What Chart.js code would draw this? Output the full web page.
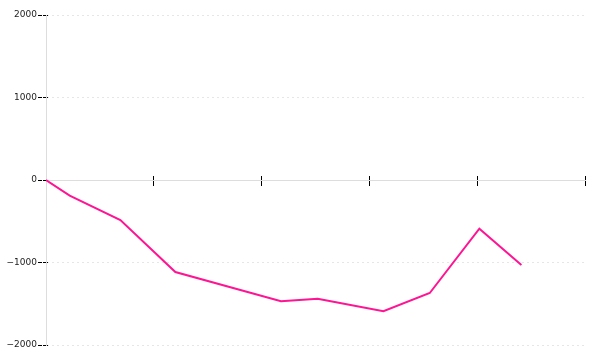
<!DOCTYPE html>
<html>
<head>
<meta charset="utf-8">
<script src="https://cdn.jsdelivr.net/npm/chart.js@4"></script>
<style>
  html, body { margin: 0; padding: 0; background: #fff; }
  #wrap { width: 600px; height: 360px; }
</style>
</head>
<body>
<div id="wrap"><canvas id="chart"></canvas></div>
<script>
// data
const xValues = [0, 0.22, 0.69, 1.2, 2.18, 2.52, 3.13, 3.56, 4.02, 4.41];
const yValues = [0, -190, -485, -1115, -1470, -1440, -1590, -1370, -590, -1030];
const yTicks = [-2000, -1000, 0, 1000, 2000];
const xTicks = [0, 1, 2, 3, 4, 5];

const points = xValues.map((x, i) => ({ x: x, y: yValues[i] }));

const tickFont = { family: 'DejaVu Sans', size: 9 };

// small helper so both halves of a crossing tick share one setup
const crossAxis = (len, extra) => Object.assign({
  min: 0,
  max: 5,
  afterBuildTicks: (scale) => { scale.ticks = xTicks.map(v => ({ value: v })); },
  afterFit: (scale) => { scale.height = 0; },
  ticks: { display: false },
  grid: { drawOnChartArea: false, tickColor: '#000', tickLength: len }
}, extra);

const ctx = document.getElementById('chart').getContext('2d');
new Chart(ctx, {
  type: 'line',
  data: {
    datasets: [{
      data: points,
      borderColor: '#ff1493',
      borderWidth: 2,
      pointRadius: 0,
      tension: 0,
      fill: false
    }]
  },
  options: {
    responsive: true,
    maintainAspectRatio: false,
    animation: false,
    layout: { padding: { top: 15, right: 15, bottom: 15, left: 0 } },
    plugins: { legend: { display: false }, tooltip: { enabled: false } },
    scales: {
      y: {
        min: -2000,
        max: 2000,
        afterBuildTicks: (scale) => { scale.ticks = yTicks.map(v => ({ value: v })); },
        afterFit: (scale) => { scale.width = 46; },
        ticks: { color: '#222', font: tickFont, padding: 1, callback: (v) => String(v).replace('-', '\u2212') },
        border: { color: '#dddddd', width: 1, dash: [2, 3] },
        grid: {
          color: '#e6e6e6',
          tickColor: '#000',
          tickLength: 8,
          tickBorderDash: [4, 1]
        }
      },
      y2: {
        axis: 'y',
        position: { x: 0 },
        min: -2000,
        max: 2000,
        afterBuildTicks: (scale) => { scale.ticks = yTicks.map(v => ({ value: v })); },
        afterFit: (scale) => { scale.width = 0; },
        ticks: { display: false },
        border: { display: false },
        grid: { drawOnChartArea: false, tickColor: '#000', tickLength: -2 }
      },
      x: crossAxis(5, {
        type: 'linear',
        position: { y: 0 },
        border: { color: '#dddddd', width: 1 }
      }),
      x2: crossAxis(-4, {
        type: 'linear',
        axis: 'x',
        position: { y: 0 },
        border: { display: false }
      })
    }
  }
});
</script>
</body>
</html>
